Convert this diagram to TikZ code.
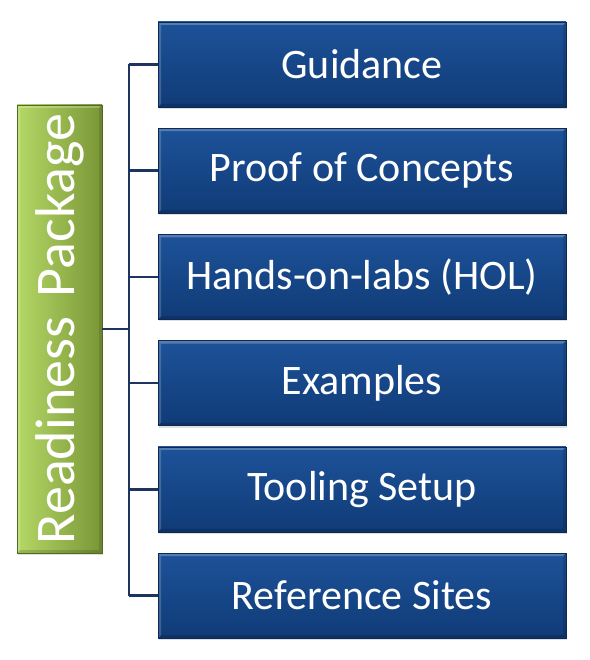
\documentclass[tikz,border=0pt]{standalone}
\usepackage{fontspec}
\usepackage{graphicx}
\setmainfont{Carlito}
\usetikzlibrary{shadows,calc}

\definecolor{boxtop}{HTML}{1D5299}
\definecolor{boxbot}{HTML}{103B77}
\definecolor{greenl}{HTML}{B4D866}
\definecolor{greend}{HTML}{7A9637}
\definecolor{linkc}{HTML}{1B355F}

\tikzset{
  bevel/.style={path picture={
    \coordinate (pp-nw) at (path picture bounding box.north west);
    \coordinate (pp-ne) at (path picture bounding box.north east);
    \coordinate (pp-sw) at (path picture bounding box.south west);
    \coordinate (pp-se) at (path picture bounding box.south east);
    \fill[white,opacity=0.25] (pp-nw) -- (pp-ne) -- ($(pp-ne)+(-3pt,-3pt)$) -- ($(pp-nw)+(3pt,-3pt)$) -- cycle;
    \fill[white,opacity=0.18] (pp-nw) -- ($(pp-nw)+(3pt,-3pt)$) -- ($(pp-sw)+(3pt,3pt)$) -- (pp-sw) -- cycle;
    \fill[black,opacity=0.15] (pp-sw) -- (pp-se) -- ($(pp-se)+(-3pt,3pt)$) -- ($(pp-sw)+(3pt,3pt)$) -- cycle;
    \fill[black,opacity=0.12] (pp-ne) -- (pp-se) -- ($(pp-se)+(-3pt,3pt)$) -- ($(pp-ne)+(-3pt,-3pt)$) -- cycle;
  }},
  itembox/.style={minimum width=408pt, minimum height=85pt, inner sep=0pt,
    top color=boxtop, bottom color=boxbot, draw=boxbot!70!black, line width=0.4pt,
    text=white, font=\fontsize{42}{48}\selectfont, bevel,
    drop shadow={opacity=0.25, shadow xshift=0.8pt, shadow yshift=-2pt}},
  rootbox/.style={minimum width=85pt, minimum height=448pt, inner sep=0pt,
    left color=greenl, right color=greend, draw=greend!70!black, line width=0.4pt,
    text=white, font=\fontsize{56}{60}\selectfont, bevel,
    drop shadow={opacity=0.25, shadow xshift=0.8pt, shadow yshift=-2pt}},
  link/.style={draw=linkc, line width=2.6pt}
}

\begin{document}
\begin{tikzpicture}[x=1pt,y=-1pt]
  \useasboundingbox[fill=white] (0,0) rectangle (589,660);

  % vertical trunk position
  \coordinate (trunk) at (129,329);

  % root box
  \node[rootbox] (root) at (59.5,329) {\rotatebox{90}{Readiness\hspace{0.35em}Package}};

  % item boxes
  \node[itembox] (b1) at (362,64.5)  {Guidance};
  \node[itembox] (b2) at (362,170.7) {Proof of Concepts};
  \node[itembox] (b3) at (362,276.9) {Hands-on-labs (HOL)};
  \node[itembox] (b4) at (362,383.1) {Examples};
  \node[itembox] (b5) at (362,489.3) {Tooling Setup};
  \node[itembox] (b6) at (362,595.5) {Reference Sites};

  % connectors
  \draw[link] (root.east) -- (root.east -| trunk);
  \draw[link] (b1.west -| trunk) -- (b6.west -| trunk);
  \foreach \b in {b1,b2,b3,b4,b5,b6}
    \draw[link] (\b.west) -- (\b.west -| trunk);
\end{tikzpicture}
\end{document}
